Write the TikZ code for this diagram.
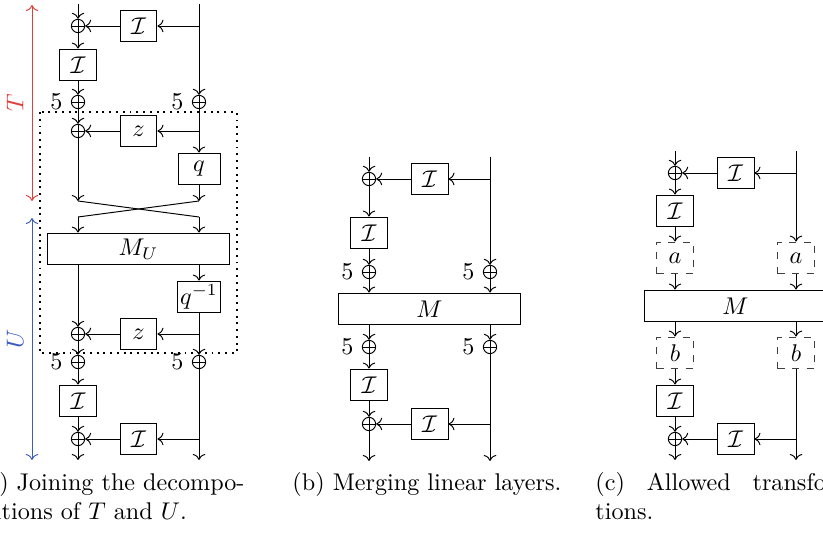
\documentclass[tikz,border=0pt]{standalone}
\usepackage{amsmath, amssymb}
\usetikzlibrary{arrows.meta,calc}
\definecolor{paletteRed}{HTML}{E0403A}
\definecolor{paletteBlue}{HTML}{3B5BC0}
\newcommand{\subcapw}{116pt}

\begin{document}
\begin{tikzpicture}[
  x=0.414pt, y=-0.414pt,
  gate/.style={draw, minimum width=15.3pt, minimum height=13.2pt, inner sep=1pt},
  qgate/.style={gate, minimum width=17.4pt},
  lingate/.style={gate, minimum width=75pt},
  optgate/.style={gate, dashed, draw=black!75},
  adder/.style={circle, draw, minimum size=5.5pt, inner sep=0pt,
    path picture={\draw (path picture bounding box.north) -- (path picture bounding box.south)
      (path picture bounding box.west) -- (path picture bounding box.east);}},
  five/.style={adder, label=left:$5$},
  subcap/.style={anchor=base west, inner sep=0pt},
  arrow/.style={->},
  rangearrow/.style={<->}
]
\useasboundingbox (0,0) rectangle (823,535);
\clip (0,0) rectangle (823,535);

% (a)
\coordinate (aInL) at (78,4);
\coordinate (aInR) at (199,4);
\node[adder] (aAdd1) at (78,26) {};
\node[gate] (aIa) at (138.5,26) {$\mathcal{I}$};
\coordinate (aTapA) at (199,26);
\node[gate] (aIb) at (78,65) {$\mathcal{I}$};
\node[five] (aFiveL) at (78,102) {};
\node[five] (aFiveR) at (199,102) {};
\node[adder] (aAdd2) at (78,131) {};
\node[gate] (aZa) at (138.5,131) {$z$};
\coordinate (aTapB) at (199,131);
\node[qgate] (aQ) at (199,169) {$q$};
\coordinate (aXl) at (78,201);
\coordinate (aXr) at (199,201);
\coordinate (aYl) at (78,217);
\coordinate (aYr) at (199,217);
\node[lingate] (aMU) at (138.5,249) {$M_U$};
\node[qgate] (aQinv) at (199,297) {$q^{-1}$};
\node[adder] (aAdd3) at (78,334) {};
\node[gate] (aZb) at (138.5,334) {$z$};
\coordinate (aTapC) at (199,334);
\node[five] (aFiveL2) at (78,362) {};
\node[five] (aFiveR2) at (199,362) {};
\node[gate] (aIc) at (78,401) {$\mathcal{I}$};
\node[adder] (aAdd4) at (78,439) {};
\node[gate] (aId) at (138.5,439) {$\mathcal{I}$};
\coordinate (aTapD) at (199,439);
\coordinate (aOutL) at (78,460);
\coordinate (aOutR) at (199,460);

\foreach \u/\v in {aInL/aAdd1, aAdd1/aIb, aIb/aFiveL, aFiveL/aAdd2, aAdd2/aXl,
                   aInR/aFiveR, aFiveR/aQ, aQ/aXr,
                   aQinv/aFiveR2, aAdd3/aFiveL2, aFiveL2/aIc, aIc/aAdd4,
                   aAdd4/aOutL, aFiveR2/aOutR}
  \draw[arrow] (\u) -- (\v);
\foreach \t/\g/\a in {aTapA/aIa/aAdd1, aTapB/aZa/aAdd2, aTapC/aZb/aAdd3, aTapD/aId/aAdd4} {
  \draw[arrow] (\t) -- (\g);
  \draw[arrow] (\g) -- (\a);
}
\draw (aXl) -- (aYr);
\draw (aXr) -- (aYl);
\draw[arrow] (aYl) -- (aYl |- aMU.north);
\draw[arrow] (aYr) -- (aYr |- aMU.north);
\draw[arrow] (aMU.south -| aAdd3) -- (aAdd3);
\draw[arrow] (aMU.south -| aQinv) -- (aQinv);

\draw[dotted, thick] (40,112) rectangle (237,353);

\coordinate (tTop) at (32,5);
\coordinate (tBot) at (32,201);
\coordinate (uTop) at (32,218);
\coordinate (uBot) at (32,460);
\draw[rangearrow, paletteRed] (tBot) -- node[sloped, above] (tLab) {$T$} (tTop);
\draw[rangearrow, paletteBlue] (uBot) -- node[sloped, above] (uLab) {$U$} (uTop);

% (b)
\coordinate (bInL) at (369,157);
\coordinate (bInR) at (490,157);
\node[adder] (bAdd1) at (369,179) {};
\node[gate] (bIa) at (429.5,179) {$\mathcal{I}$};
\coordinate (bTapA) at (490,179);
\node[gate] (bIb) at (369,233) {$\mathcal{I}$};
\node[five] (bFiveL) at (369,272) {};
\node[five] (bFiveR) at (490,272) {};
\node[lingate] (bM) at (429.5,309) {$M$};
\node[five] (bFiveL2) at (369,347) {};
\node[five] (bFiveR2) at (490,347) {};
\node[gate] (bIc) at (369,385) {$\mathcal{I}$};
\node[adder] (bAdd2) at (369,424) {};
\node[gate] (bId) at (429.5,424) {$\mathcal{I}$};
\coordinate (bTapB) at (490,424);
\coordinate (bOutL) at (369,461);
\coordinate (bOutR) at (490,461);

\foreach \u/\v in {bInL/bAdd1, bAdd1/bIb, bIb/bFiveL, bInR/bFiveR,
                   bFiveL2/bIc, bIc/bAdd2, bAdd2/bOutL, bFiveR2/bOutR}
  \draw[arrow] (\u) -- (\v);
\foreach \t/\g/\a in {bTapA/bIa/bAdd1, bTapB/bId/bAdd2} {
  \draw[arrow] (\t) -- (\g);
  \draw[arrow] (\g) -- (\a);
}
\foreach \n in {bFiveL, bFiveR}
  \draw[arrow] (\n) -- (\n |- bM.north);
\foreach \n in {bFiveL2, bFiveR2}
  \draw[arrow] (bM.south -| \n) -- (\n);

% (c)
\coordinate (cInL) at (675,151);
\coordinate (cInR) at (796,151);
\node[adder] (cAdd1) at (675,173) {};
\node[gate] (cIa) at (735.5,173) {$\mathcal{I}$};
\coordinate (cTapA) at (796,173);
\node[gate] (cIb) at (675,211) {$\mathcal{I}$};
\node[optgate] (cAl) at (675,258) {$a$};
\node[optgate] (cAr) at (796,258) {$a$};
\node[lingate] (cM) at (735.5,306) {$M$};
\node[optgate] (cBl) at (675,353) {$b$};
\node[optgate] (cBr) at (796,353) {$b$};
\node[gate] (cIc) at (675,401) {$\mathcal{I}$};
\node[adder] (cAdd2) at (675,439) {};
\node[gate] (cId) at (735.5,439) {$\mathcal{I}$};
\coordinate (cTapB) at (796,439);
\coordinate (cOutL) at (675,460);
\coordinate (cOutR) at (796,460);

\foreach \u/\v in {cInL/cAdd1, cAdd1/cIb, cIb/cAl, cInR/cAr,
                   cBl/cIc, cIc/cAdd2, cAdd2/cOutL, cBr/cOutR}
  \draw[arrow] (\u) -- (\v);
\foreach \t/\g/\a in {cTapA/cIa/cAdd1, cTapB/cId/cAdd2} {
  \draw[arrow] (\t) -- (\g);
  \draw[arrow] (\g) -- (\a);
}
\foreach \n in {cAl, cAr}
  \draw[arrow] (\n) -- (\n |- cM.north);
\foreach \n in {cBl, cBr}
  \draw[arrow] (cM.south -| \n) -- (\n);

% captions
\node[subcap, anchor=base east] (capA1) at (245,491) {(a) Joining the decompo-};
\node[subcap] (capA2) at (-15,520) {sitions of $T$ and $U$.};
\node[subcap] (capB) at (292,491) {(b) Merging linear layers.};
\node[subcap] (capC1) at (595,491) {\makebox[\subcapw][s]{(c) Allowed transforma-}};
\node[subcap] (capC2) at (595,520) {tions.};
\end{tikzpicture}
\end{document}
